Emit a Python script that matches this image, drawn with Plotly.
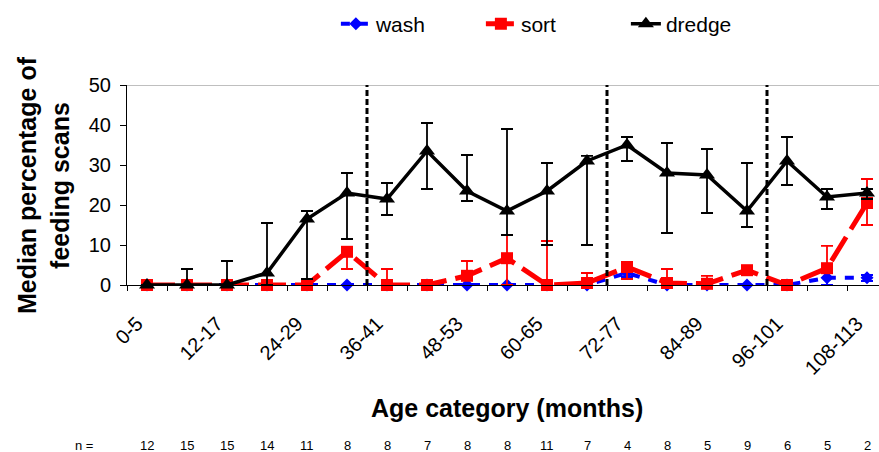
import plotly.graph_objects as go

# Age categories (months) and sample sizes per category
age_groups = ["0-5", "6-11", "12-17", "18-23", "24-29", "30-35", "36-41", "42-47",
              "48-53", "54-59", "60-65", "66-71", "72-77", "78-83", "84-89", "90-95",
              "96-101", "102-107", "108-113"]
n_sizes = [12, 15, 15, 14, 11, 8, 8, 7, 8, 8, 11, 7, 4, 8, 5, 9, 6, 5, 2]

# Median percentage of feeding scans with upper / lower quartile limits
wash_med = [0, 0, 0, 0, 0, 0, 0, 0, 0, 0, 0, 0, 3, 0, 0, 0, 0, 1.8, 1.8]
wash_upper = [0, 0, 0, 0, 0, 0, 0, 0, 0, 0, 0, 0, 3.5, 0, 0, 0, 0, 3.9, 2.5]
wash_lower = [0, 0, 0, 0, 0, 0, 0, 0, 0, 0, 0, 0, 2, 0, 0, 0, 0, 0, 1]

sort_med = [0, 0, 0, 0, 0, 8.3, 0, 0, 2.3, 6.7, 0, 0.5, 4.5, 0.5, 0.3, 3.7, 0, 4.2, 20.5]
sort_upper = [0, 0, 0, 0, 0, 9.5, 4, 0, 6, 12.5, 11, 3, 5.7, 4, 2.3, 4.8, 0, 9.8, 26.5]
sort_lower = [0, 0, 0, 0, 0, 4, 0, 0, 2.3, 0, 0, 0, 1.5, 0, 0, 3, 0, 4, 15]

dredge_med = [0, 0, 0, 3, 16.5, 23, 21.5, 33.5, 23.5, 18.5, 23.5, 31, 35, 28, 27.5,
              18.5, 31, 22, 23]
dredge_upper = [0, 4, 6, 15.5, 18.5, 28, 25.5, 40.5, 32.5, 39, 30.5, 32.3, 37, 35.5, 34,
                30.5, 37, 24, 24]
dredge_lower = [0, 0, 0, 0, 1.5, 11.5, 17.5, 24, 21, 12.5, 10, 10, 31, 13, 18, 14.5,
                25, 19, 21.5]

# Period boundaries (between categories)
period_breaks = [5.5, 11.5, 15.5]

y_ticks = [0, 10, 20, 30, 40, 50]

FONT = "Liberation Sans, Arial, sans-serif"
xs = list(range(len(age_groups)))


def err(med, hi, lo, color):
    return dict(type="data", symmetric=False,
                array=[h - m for h, m in zip(hi, med)],
                arrayminus=[m - l for m, l in zip(med, lo)],
                color=color, thickness=1.8, width=6)


fig = go.Figure()

fig.add_trace(go.Scatter(
    x=xs, y=wash_med, name="wash", mode="lines+markers",
    line=dict(color="#0000FF", width=4, dash="9px,9px"),
    marker=dict(symbol="diamond", size=10, color="#0000FF"),
    error_y=err(wash_med, wash_upper, wash_lower, "#0000FF"),
    cliponaxis=False))

fig.add_trace(go.Scatter(
    x=xs, y=sort_med, name="sort", mode="lines+markers",
    line=dict(color="#FF0000", width=5, dash="28px,9px"),
    marker=dict(symbol="square", size=12, color="#FF0000"),
    error_y=err(sort_med, sort_upper, sort_lower, "#FF0000"),
    cliponaxis=False))

fig.add_trace(go.Scatter(
    x=xs, y=dredge_med, name="dredge", mode="lines+markers",
    line=dict(color="black", width=3.5),
    marker=dict(symbol="triangle-up", size=14, color="black"),
    error_y=err(dredge_med, dredge_upper, dredge_lower, "black"),
    cliponaxis=False))

# Dashed period separators
for b in period_breaks:
    fig.add_shape(type="line", xref="x", yref="y", x0=b, x1=b, y0=0, y1=50,
                  line=dict(color="black", width=3, dash="6px,3px"))

# Top border line at the axis maximum
fig.add_shape(type="line", xref="paper", yref="y", x0=0, x1=1, y0=50, y1=50,
              line=dict(color="#808080", width=1), layer="below")

annotations = []
# Sample-size row
annotations.append(dict(text="n =", xref="paper", yref="paper", x=(84 - 127) / 752,
                        y=-0.8, xanchor="center", yanchor="middle", showarrow=False,
                        font=dict(size=13, family=FONT, color="black")))
for i, n in enumerate(n_sizes):
    annotations.append(dict(text=str(n), xref="x", yref="paper", x=i, y=-0.8,
                            xanchor="center", yanchor="middle", showarrow=False,
                            font=dict(size=13, family=FONT, color="black")))

# Axis titles
annotations.append(dict(text="<b>Age category (months)</b>", xref="x", yref="paper",
                        x=9, y=-0.615, xanchor="center", yanchor="middle",
                        showarrow=False,
                        font=dict(size=25, family=FONT, color="black")))
annotations.append(dict(text="<b>Median percentage of<br>feeding scans</b>",
                        xref="paper", yref="paper", x=(43 - 127) / 752, y=0.5,
                        xanchor="center", yanchor="middle", textangle=-90,
                        showarrow=False,
                        font=dict(size=25, family=FONT, color="black")))

fig.update_layout(
    width=879, height=452,
    margin=dict(l=127, r=0, t=85, b=167),
    paper_bgcolor="white", plot_bgcolor="white",
    font=dict(family=FONT, color="black"),
    showlegend=True,
    legend=dict(orientation="h", x=0.567, xanchor="center", y=1.305,
                yanchor="middle", font=dict(size=21, family=FONT, color="black"),
                itemwidth=30, entrywidth=100, entrywidthmode="pixels",
                bgcolor="rgba(0,0,0,0)"),
    annotations=annotations,
    xaxis=dict(
        range=[-0.5, 18.3], showgrid=False, zeroline=False,
        showline=True, linecolor="black", linewidth=1,
        tickmode="array", tickvals=xs[::2], ticktext=age_groups[::2],
        ticks="", tickangle=-45, tickfont=dict(size=20, family=FONT, color="black"),
        ticklabelstandoff=18, ticklabelshift=-10,
        minor=dict(tickmode="array", tickvals=[i - 0.5 for i in range(len(age_groups) + 1)],
                   ticks="outside", ticklen=5, tickcolor="black", tickwidth=1,
                   showgrid=False),
    ),
    yaxis=dict(
        range=[0, 50], showgrid=False, zeroline=False,
        showline=True, linecolor="black", linewidth=1,
        tickmode="array", tickvals=y_ticks, ticks="outside", ticklen=6,
        tickcolor="black", tickfont=dict(size=20, family=FONT, color="black"),
        ticklabelstandoff=5,
    ),
)

fig.write_html("out.html")
